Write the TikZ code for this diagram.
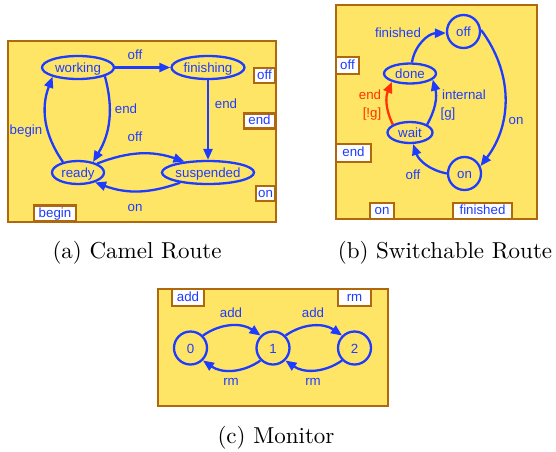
\documentclass[tikz,border=0pt]{standalone}
\usepackage{fontspec}
\newfontfamily\labfont{Liberation Sans}
\newfontfamily\capfont{lmroman10-regular}[Extension=.otf]
\usetikzlibrary{arrows.meta,shapes.geometric}
\definecolor{fillyel}{HTML}{FEE566}
\definecolor{brownln}{HTML}{B0680E}
\definecolor{blueln}{HTML}{1E3CFF}
\definecolor{redln}{HTML}{FF3300}
\tikzset{
  frame/.style={draw=brownln, fill=fillyel, line width=2pt},
  port/.style={draw=brownln, fill=white, line width=2.2pt, text=blueln,
    font=\labfont\fontsize{13.3}{15}\selectfont, inner sep=0pt,
    text height=9.4pt, text depth=2.4pt},
  stateE/.style={ellipse, draw=blueln, line width=2.3pt, text=blueln,
    font=\labfont\fontsize{13.3}{15}\selectfont, inner sep=0pt,
    text height=10pt, text depth=0pt},
  stateC/.style={circle, draw=blueln, line width=2.3pt, text=blueln,
    font=\labfont\fontsize{13.3}{15}\selectfont, inner sep=0pt,
    text height=10pt, text depth=0pt, minimum size=33pt},
  edge/.style={draw=blueln, line width=2.3pt, -{Triangle[length=11pt,width=9pt]}},
  elabel/.style={text=blueln, font=\labfont\fontsize{13.3}{15}\selectfont,
    inner sep=0pt, anchor=base},
  caption/.style={font=\capfont\fontsize{23}{27}\selectfont, inner sep=0pt, anchor=base},
}
\begin{document}
\begin{tikzpicture}[x=1pt,y=1pt]
\useasboundingbox (0,0) rectangle (556,-451);
\fill[white] (0,0) rectangle (556,-451);

% ---------- (a) Camel Route ----------
\path[frame] (8,-41) rectangle (276,-222);
\node[stateE, minimum width=72pt, minimum height=23pt] (working) at (78,-67.5) {working};
\node[stateE, minimum width=73pt, minimum height=23pt] (finishing) at (208,-67.5) {finishing};
\node[stateE, minimum width=52pt, minimum height=23pt] (ready) at (78,-172.5) {ready};
\node[stateE, minimum width=91pt, minimum height=23pt] (suspended) at (208,-172.5) {suspended};

\node[port, minimum width=21pt, minimum height=15pt] (aoff) at (264.5,-75.5) {off};
\node[port, minimum width=31pt, minimum height=15pt] (aend) at (259.5,-121) {end};
\node[port, minimum width=19pt, minimum height=15pt] (aon) at (265.5,-193.5) {on};
\node[port, minimum width=42pt, minimum height=16pt] (abegin) at (55,-213.5) {begin};

\draw[edge] (working) -- (finishing);
\draw[edge] (working.-18) to[bend left=23] (ready.35);
\draw[edge] (ready.145) to[bend left=28] (working.200);
\draw[edge] (finishing) -- (suspended);
\draw[edge] (ready.25) to[bend left=20] (suspended.155);
\draw[edge] (suspended.200) to[bend left=20] (ready.-30);

\node[elabel] (la1) at (135,-59.3) {off};
\node[elabel] (la2) at (126,-113.3) {end};
\node[elabel] (la3) at (26,-134) {begin};
\node[elabel] (la4) at (226,-108.3) {end};
\node[elabel] (la5) at (135,-141.7) {off};
\node[elabel] (la6) at (135,-211.7) {on};

\node[caption] (capa) at (137,-258) {(a) Camel Route};

% ---------- (b) Switchable Route ----------
\path[frame] (336,-5) rectangle (537,-219);
\node[stateC] (boff) at (463.5,-31.5) {off};
\node[stateE, minimum width=52pt, minimum height=20pt] (done) at (410,-73.5) {done};
\node[stateE, minimum width=45pt, minimum height=21pt] (wait) at (410,-132.5) {wait};
\node[stateC] (bon) at (464.5,-173.5) {on};

\node[port, minimum width=23pt, minimum height=17pt] (boffp) at (347.5,-65.5) {off};
\node[port, minimum width=35pt, minimum height=18pt] (bendp) at (353.5,-153) {end};
\node[port, minimum width=24pt, minimum height=16pt] (bonp) at (382,-211) {on};
\node[port, minimum width=59pt, minimum height=16pt] (bfinp) at (482.5,-211) {finished};

\draw[edge] (done.80) to[bend left=40] (boff.185);
\draw[edge] (boff.5) to[bend left=37] (bon.25);
\draw[edge] (bon.180) to[bend left=30] (wait.-75);
\draw[edge, draw=redln, color=redln] (wait.155) to[bend left=25] (done.205);
\draw[edge] (wait.25) to[bend right=22] (done.-15);

\node[elabel] (lb1) at (398,-37.3) {finished};
\node[elabel] (lb2) at (516,-124) {on};
\node[elabel] (lb3) at (413,-179) {off};
\node[elabel, text=redln] (lb4) at (370,-99) {end};
\node[elabel, text=redln] (lb5) at (372,-117.3) {[!g]};
\node[elabel] (lb6) at (464,-99) {internal};
\node[elabel] (lb7) at (448,-117.3) {[g]};

\node[caption] (capb) at (445,-258) {(b) Switchable Route};

% ---------- (c) Monitor ----------
\path[frame] (158,-289) rectangle (388,-406);
\node[stateC] (n0) at (190.5,-348) {0};
\node[stateC] (n1) at (273,-348) {1};
\node[stateC] (n2) at (354.5,-348) {2};

\node[port, minimum width=32pt, minimum height=17pt] (cadd) at (188,-297.5) {add};
\node[port, minimum width=33pt, minimum height=17pt] (crm) at (354.5,-297.5) {rm};

\draw[edge] (n0.45) to[bend left=35] (n1.135);
\draw[edge] (n1.-135) to[bend left=35] (n0.-45);
\draw[edge] (n1.45) to[bend left=35] (n2.135);
\draw[edge] (n2.-135) to[bend left=35] (n1.-45);

\node[elabel] (lc1) at (231,-317.3) {add};
\node[elabel] (lc2) at (231,-385) {rm};
\node[elabel] (lc3) at (313,-317.3) {add};
\node[elabel] (lc4) at (313,-385) {rm};

\node[caption] (capc) at (276,-443) {(c) Monitor};
\end{tikzpicture}
\end{document}
